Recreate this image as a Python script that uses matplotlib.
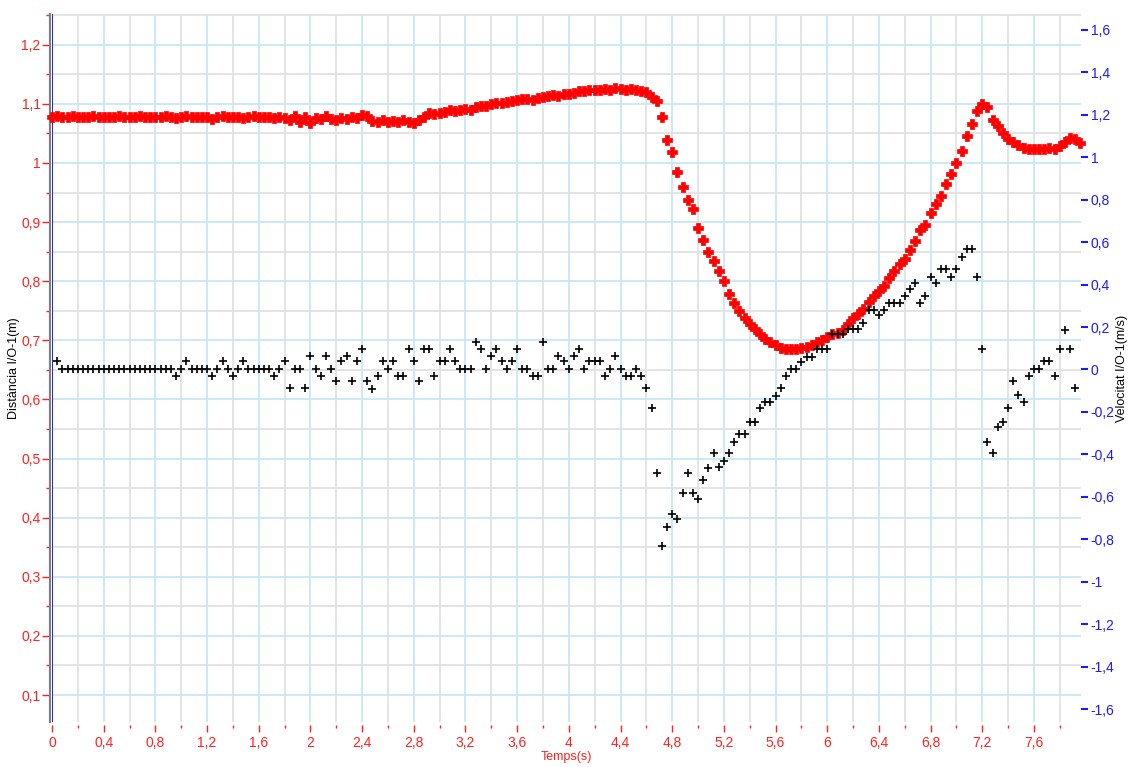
import numpy as np
import matplotlib.pyplot as plt
from matplotlib.ticker import MultipleLocator, FuncFormatter

plt.rcParams['font.family'] = ['Liberation Sans', 'DejaVu Sans']

# sampling step of the sensor (s)
step = 0.04

# Distància I/O-1 (m), from t = 0
distance = [
    1.078, 1.079, 1.078, 1.078, 1.079, 1.078, 1.077, 1.078, 1.079, 1.078,
    1.078, 1.077, 1.078, 1.079, 1.078, 1.078, 1.078, 1.079, 1.078, 1.077,
    1.078, 1.078, 1.079, 1.078, 1.076,
    1.078, 1.079, 1.078, 1.077, 1.078, 1.078, 1.075, 1.078, 1.079, 1.078,
    1.077, 1.078, 1.076, 1.078, 1.079, 1.078, 1.077, 1.078, 1.076, 1.078,
    1.076, 1.072, 1.080, 1.070, 1.078, 1.068, 1.076, 1.074, 1.079,
    1.075, 1.073, 1.076, 1.074, 1.077, 1.076,
    1.081, 1.080,
    1.071, 1.070, 1.072, 1.069, 1.071, 1.070, 1.072, 1.070, 1.068, 1.072,
    1.078, 1.084, 1.083, 1.085,
    1.087, 1.089, 1.088, 1.090, 1.091, 1.090,
    1.094, 1.096, 1.097,
    1.100, 1.102, 1.101, 1.103, 1.104,
    1.106, 1.108, 1.109, 1.107, 1.110,
    1.112, 1.114, 1.115, 1.113, 1.116, 1.117, 1.119,
    1.121, 1.122, 1.123, 1.124, 1.123, 1.125, 1.124, 1.126, 1.125, 1.124,
    1.125, 1.124,
    1.122, 1.120, 1.112, 1.104, 1.077, 1.039, 1.018, 0.985, 0.960, 0.938,
    0.922, 0.890, 0.870, 0.850, 0.834, 0.817, 0.800, 0.778, 0.763, 0.750,
    0.738, 0.728, 0.719, 0.710, 0.703, 0.698, 0.692, 0.687, 0.686, 0.686,
    0.686, 0.687, 0.689, 0.692, 0.698, 0.701, 0.705, 0.710, 0.713, 0.718,
    0.728, 0.737, 0.745, 0.753, 0.765, 0.775, 0.783, 0.792, 0.806, 0.818,
    0.829, 0.838, 0.853, 0.868, 0.886, 0.895, 0.915, 0.930, 0.944, 0.964,
    0.982, 1.000, 1.020, 1.045, 1.066, 1.088, 1.100, 1.095, 1.072, 1.062,
    1.050, 1.040, 1.036, 1.030, 1.025, 1.024, 1.023, 1.024, 1.023, 1.025,
    1.024, 1.028, 1.035, 1.042, 1.041, 1.033,
]

# Velocitat I/O-1 (m/s), from t = 0.04
velocity = [
    0.04,
    0, 0, 0, 0, 0, 0, 0, 0, 0, 0, 0, 0, 0, 0, 0, 0, 0, 0, 0, 0, 0, 0,
    -0.03, 0, 0.04, 0, 0, 0, 0, -0.03, 0, 0.04, 0, -0.03, 0, 0.04,
    0, 0, 0, 0, 0, -0.03, 0, 0.04, -0.086, 0, 0, -0.086,
    0.065, 0, -0.03, 0.065, 0, -0.054, 0.04, 0.065, -0.054, 0.04,
    0.097, -0.054, -0.09, -0.03, 0.04, 0, 0.04, -0.03, -0.03, 0.097,
    0.04, -0.054, 0.097, 0.097, -0.03, 0.04, 0.04, 0.097, 0.04, 0,
    0, 0, 0.13, 0.097, 0, 0.065, 0.097, 0.04, 0, 0.04,
    0.097, 0, 0, -0.03, -0.03, 0.13, 0, 0, 0.065, 0.04,
    0, 0.065, 0.097, 0, 0.04, 0.04, 0.04, -0.03, 0, 0.065,
    0, -0.03, -0.03, 0, -0.03, -0.086, -0.18, -0.49, -0.83, -0.74,
    -0.68, -0.705, -0.58, -0.49, -0.58, -0.61, -0.52, -0.465, -0.395, -0.46,
    -0.43, -0.395, -0.34, -0.304, -0.304, -0.248, -0.248, -0.18, -0.153, -0.153,
    -0.124, -0.086, -0.03, 0, 0, 0.037, 0.06, 0.06, 0.095, 0.095,
    0.095, 0.166, 0.166, 0.166, 0.19, 0.19, 0.19, 0.22, 0.28, 0.28,
    0.255, 0.28, 0.315, 0.315, 0.315, 0.347, 0.378, 0.406, 0.315, 0.347,
    0.438, 0.406, 0.473, 0.473, 0.438, 0.473, 0.532, 0.567, 0.567, 0.438,
    0.095, -0.34, -0.395, -0.27, -0.248, -0.18, -0.053, -0.12, -0.153, -0.03,
    0, 0, 0.038, 0.038, -0.03, 0.095, 0.186, 0.095, -0.087,
]

t_dist = np.round(step * np.arange(len(distance)), 2)
t_vel = np.round(step * np.arange(1, len(velocity) + 1), 2)

RED = '#ff2020'
BLUE = '#1a1aff'
GRID_BLUE = '#c8e7f8'
GRID_GREY = '#e2e2e2'


def comma(v, pos):
    s = f'{v:.1f}'
    if s.endswith('.0'):
        s = s[:-2]
    if s == '-0':
        s = '0'
    return s.replace('.', ',')


fig = plt.figure(figsize=(11.29, 7.67), dpi=100)
ax = fig.add_axes([52 / 1129, 1 - 722 / 767, (1081 - 52) / 1129, (722 - 14) / 767])
ax2 = ax.twinx()

ax.set_xlim(0, 7.964)
ax.set_ylim(0.0544, 1.252)
ax2.set_ylim(-1.661, 1.675)

ax.xaxis.set_major_locator(MultipleLocator(0.4))
ax.xaxis.set_minor_locator(MultipleLocator(0.2))
ax.yaxis.set_major_locator(MultipleLocator(0.1))
ax.yaxis.set_minor_locator(MultipleLocator(0.05))
ax2.yaxis.set_major_locator(MultipleLocator(0.2))
for a in (ax.xaxis, ax.yaxis, ax2.yaxis):
    a.set_major_formatter(FuncFormatter(comma))

ax.grid(which='major', color=GRID_BLUE, lw=1.3)
ax.grid(which='minor', color=GRID_GREY, lw=1.3)
ax.set_axisbelow(True)

for s in ('top', 'right', 'bottom'):
    ax.spines[s].set_visible(False)
for s in ax2.spines.values():
    s.set_visible(False)
ax.spines['left'].set_color('#808080')
ax.spines['left'].set_linewidth(1.6)
ax.spines['left'].set_position(('outward', 1.2))
ax.spines['bottom'].set_position(('outward', 2))
ax.axvline(0, color='#0000ff', lw=1.2, zorder=3)

ax.tick_params(axis='x', which='major', colors=RED, length=5, width=1, pad=3, labelsize=10)
ax.tick_params(axis='x', which='minor', colors=RED, length=2.5, width=1)
ax.tick_params(axis='y', which='major', colors=RED, length=6, width=1, pad=1, labelsize=10)
ax.tick_params(axis='y', which='minor', colors=RED, length=3, width=1)
ax2.tick_params(axis='y', colors=BLUE, length=5, width=1.5, pad=2, labelsize=10)

ax.set_xlabel('Temps(s)', color=RED, fontsize=9, labelpad=1)
ax.set_ylabel('Distància I/O-1(m)', color='black', fontsize=9, va='center')
ax2.set_ylabel('Velocitat I/O-1(m/s)', color='black', fontsize=9, va='center')
ax.yaxis.set_label_coords(-0.037, 0.5)
ax2.yaxis.set_label_coords(1.0395, 0.5)

ax.plot(t_dist, distance, ls='none', marker='P', ms=7.2, color='#ff0000',
        mec='#ff0000', mew=0.5, clip_on=False, zorder=4)
ax2.plot(t_vel, velocity, ls='none', marker='+', ms=5.5, mew=1.2, color='black',
         zorder=5)

fig.savefig('out.png', dpi=100)
